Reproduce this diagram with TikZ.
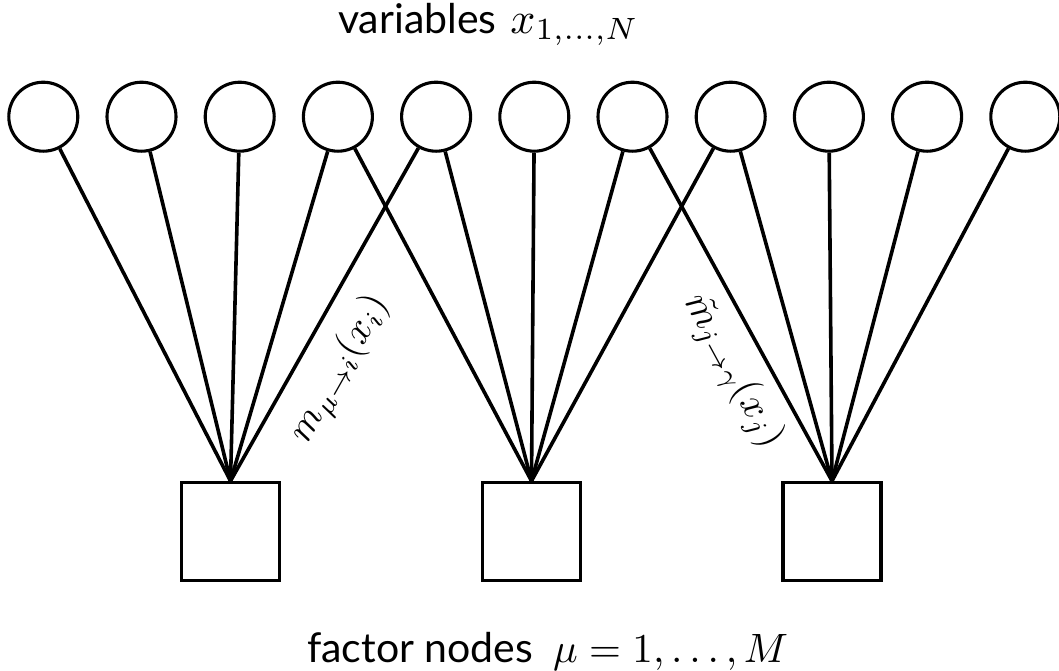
\documentclass[tikz,border=0pt]{standalone}
\usepackage{fontspec}
\setsansfont{Lato}
\newcommand\bigmath[2]{\scalebox{#1}{\fontsize{10}{12}\selectfont$#2$}}
\begin{document}
\begin{tikzpicture}[x=1pt,y=-1pt,
  var/.style={circle,draw,line width=3.1pt,minimum size=69pt,inner sep=0pt},
  fac/.style={rectangle,draw,line width=3.1pt,minimum size=98pt,inner sep=0pt},
  link/.style={line width=3.6pt},
  mathlbl/.style={inner sep=0pt},
  caption/.style={anchor=base west,inner sep=0pt,font=\sffamily\fontsize{41}{46}\selectfont}]
\useasboundingbox (0,0) rectangle (1059,670);
\foreach \i in {1,...,11}
  \node[var] (v\i) at ({43.3+98.2*(\i-1)},116.7) {};
\node[fac] (f1) at (230.5,531.5) {};
\node[fac] (f2) at (531.5,531.5) {};
\node[fac] (f3) at (832,531.5) {};
\foreach \v in {1,...,5} \draw[link] (v\v) -- (f1.north);
\foreach \v in {4,...,8} \draw[link] (v\v) -- (f2.north);
\foreach \v in {7,...,11} \draw[link] (v\v) -- (f3.north);
\node[mathlbl,rotate=60.5] (lab1) at (340,369) {\bigmath{3.9}{m_{\mu\to i}(x_i)}};
\node[mathlbl,rotate=-61.5] (lab2) at (733,371) {\bigmath{3.9}{\tilde{m}_{j\to\gamma}(x_j)}};
\node[caption] (title) at (338,33) {variables\hspace{14pt}\bigmath{4.4}{x_{1,\ldots,N}}};
\node[caption] (bottom) at (307,662) {factor nodes\hspace{20pt}\bigmath{4.1}{\mu=1,\ldots,M}};
\end{tikzpicture}
\end{document}
